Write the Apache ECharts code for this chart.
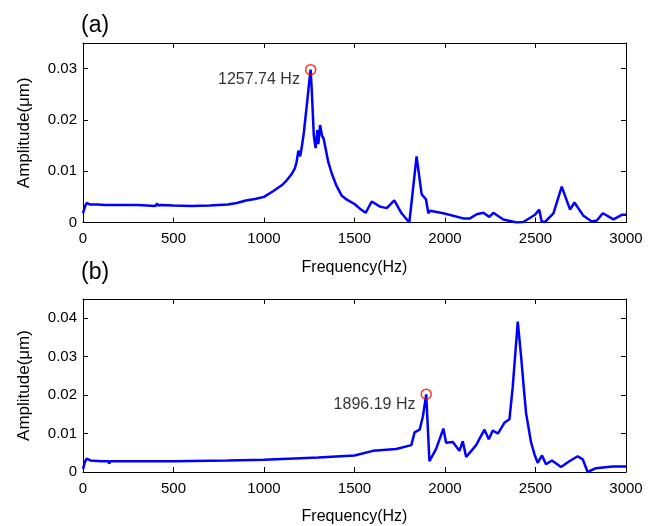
<!DOCTYPE html>
<html>
<head>
<meta charset="utf-8">
<script src="https://cdn.jsdelivr.net/npm/echarts@6/dist/echarts.min.js"></script>
<style>
html,body{margin:0;padding:0;background:#fff;}
#chart{width:657px;height:526px;}
</style>
</head>
<body>
<div id="chart"></div>
<script>
// ---- Data ----
const xTicks = [0, 500, 1000, 1500, 2000, 2500, 3000];
const yTicksA = [0, 0.01, 0.02, 0.03];
const yTicksB = [0, 0.01, 0.02, 0.03, 0.04];

// Panel (a)
const freqA = [0, 10, 20, 40, 80, 120, 125, 130, 200, 300, 400, 405, 410, 415, 430, 500, 600, 700, 800, 850, 900, 950, 1000, 1050, 1100, 1120, 1150, 1170, 1180, 1190, 1200, 1210, 1220, 1240, 1250, 1257.74, 1265, 1275, 1285, 1295, 1300, 1310, 1320, 1330, 1340, 1355, 1375, 1400, 1430, 1460, 1500, 1530, 1562, 1595, 1641, 1678, 1720, 1760, 1803, 1843, 1871, 1895, 1908, 1917, 1991, 2101, 2138, 2175, 2212, 2245, 2267, 2322, 2396, 2433, 2497, 2521, 2534, 2553, 2599, 2645, 2691, 2715, 2765, 2811, 2839, 2872, 2931, 2977, 3000];
const ampA  = [0.0018, 0.0030, 0.0038, 0.0035, 0.0035, 0.0034, 0.0031, 0.0035, 0.0034, 0.0034, 0.0032, 0.0031, 0.0037, 0.0033, 0.0034, 0.0033, 0.0032, 0.0033, 0.0035, 0.0038, 0.0043, 0.0046, 0.0050, 0.0061, 0.0073, 0.0080, 0.0093, 0.0105, 0.0118, 0.0140, 0.0129, 0.0150, 0.0175, 0.0240, 0.0275, 0.0298, 0.0250, 0.0170, 0.0145, 0.0180, 0.0153, 0.0190, 0.0170, 0.0163, 0.0145, 0.0118, 0.0095, 0.0072, 0.0052, 0.0044, 0.0036, 0.0027, 0.0019, 0.0041, 0.0031, 0.0028, 0.0043, 0.0018, 0.0000, 0.0129, 0.0055, 0.0045, 0.0018, 0.0023, 0.0018, 0.0008, 0.0008, 0.0016, 0.0019, 0.0011, 0.0019, 0.0006, 0.0000, 0.0001, 0.0015, 0.0025, 0.0002, 0.0001, 0.0018, 0.0070, 0.0025, 0.0039, 0.0013, 0.0002, 0.0004, 0.0018, 0.0006, 0.0015, 0.0015];
const peakA = {freq: 1257.74, amp: 0.0298, label: '1257.74 Hz'};

// Panel (b)
const freqB = [0, 10, 20, 40, 100, 140, 145, 150, 300, 500, 800, 1000, 1300, 1500, 1602, 1731, 1814, 1832, 1860, 1878, 1896.19, 1914, 1951, 1991, 2006, 2043, 2080, 2098, 2117, 2172, 2218, 2242, 2264, 2292, 2328, 2356, 2374, 2402, 2420, 2435, 2448, 2475, 2495, 2512, 2536, 2558, 2591, 2641, 2687, 2733, 2761, 2788, 2834, 2926, 3000];
const ampB  = [0.0008, 0.0025, 0.0035, 0.0030, 0.0028, 0.0028, 0.0022, 0.0028, 0.0028, 0.0028, 0.0030, 0.0032, 0.0038, 0.0043, 0.0055, 0.0060, 0.0070, 0.0103, 0.0110, 0.0145, 0.0202, 0.0028, 0.0060, 0.0113, 0.0076, 0.0078, 0.0055, 0.0080, 0.0039, 0.0070, 0.0110, 0.0085, 0.0108, 0.0100, 0.0128, 0.0137, 0.0220, 0.0391, 0.0303, 0.0220, 0.0153, 0.0078, 0.0045, 0.0024, 0.0043, 0.0020, 0.0030, 0.0013, 0.0028, 0.0041, 0.0033, 0.0000, 0.0010, 0.0014, 0.0014];
const peakB = {freq: 1896.19, amp: 0.02025, label: '1896.19 Hz'};

// ---- Build ----
const pairs = (xs, ys) => xs.map((x, i) => [x, ys[i]]);
const FONT = '"Liberation Sans", Arial, sans-serif';
const lblFmtY = v => v === 0 ? '0' : v.toFixed(2);
const lblFmtX = v => String(v);

function mkX(grid, pos, show) {
  return {
    type: 'value', gridIndex: grid, position: pos, min: 0, max: 3000, interval: 500,
    axisLine: {show: true, onZero: false, lineStyle: {color: '#000', width: 1}},
    axisTick: {show: true, inside: true, length: 5, lineStyle: {color: '#000'}},
    axisLabel: {show: show, color: '#000', fontSize: 15, fontFamily: FONT, margin: 9, formatter: lblFmtX},
    splitLine: {show: false},
    name: show ? 'Frequency(Hz)' : '', nameLocation: 'middle', nameGap: 37,
    nameTextStyle: {color: '#000', fontSize: 16, fontFamily: FONT}
  };
}
function mkY(grid, pos, show, max) {
  return {
    type: 'value', gridIndex: grid, position: pos, min: 0, max: max, interval: 0.01,
    axisLine: {show: true, onZero: false, lineStyle: {color: '#000', width: 1}},
    axisTick: {show: true, inside: true, length: 5, lineStyle: {color: '#000'}},
    axisLabel: {show: show, color: '#000', fontSize: 15, fontFamily: FONT, margin: 6,
                formatter: lblFmtY, showMaxLabel: false},
    splitLine: {show: false},
    name: show ? 'Amplitude(\u03bcm)' : '', nameLocation: 'middle', nameGap: 50,
    nameTextStyle: {color: '#000', fontSize: 17, fontFamily: FONT, padding: [0, 0, 0, 0]}
  };
}
function peakSeries(xi, yi, p) {
  return {
    type: 'scatter', xAxisIndex: xi, yAxisIndex: yi,
    data: [[p.freq, p.amp]],
    symbol: 'circle', symbolSize: 10,
    itemStyle: {color: 'rgba(0,0,0,0)', borderColor: '#ff0000', borderWidth: 1.5},
    label: {show: true, position: 'left', distance: 5, offset: [0, 10],
            formatter: p.label, color: '#000', fontSize: 16, fontFamily: FONT},
    z: 5
  };
}

const chart = echarts.init(document.getElementById('chart'), null, {renderer: 'canvas'});
chart.setOption({
  animation: false,
  backgroundColor: '#fff',
  grid: [
    {left: 83, right: 31, top: 43, height: 179.5},
    {left: 83, right: 31, top: 299, height: 179}
  ],
  xAxis: [mkX(0, 'bottom', true), mkX(0, 'top', false), mkX(1, 'bottom', true), mkX(1, 'top', false)],
  yAxis: [mkY(0, 'left', true, 0.035), mkY(0, 'right', false, 0.035), mkY(1, 'left', true, 0.045), mkY(1, 'right', false, 0.045)],
  graphic: [
    {type: 'text', left: 81, top: 14, style: {text: '(a)', fontSize: 23, fontFamily: FONT, fill: '#000'}},
    {type: 'text', left: 81, top: 261, style: {text: '(b)', fontSize: 23, fontFamily: FONT, fill: '#000'}}
  ],
  series: [
    {type: 'line', xAxisIndex: 0, yAxisIndex: 0, data: pairs(freqA, ampA), showSymbol: false,
     lineStyle: {color: '#0000ff', width: 2.5}, z: 3},
    peakSeries(0, 0, peakA),
    {type: 'line', xAxisIndex: 2, yAxisIndex: 2, data: pairs(freqB, ampB), showSymbol: false,
     lineStyle: {color: '#0000ff', width: 2.5}, z: 3},
    peakSeries(2, 2, peakB)
  ]
});
</script>
</body>
</html>
